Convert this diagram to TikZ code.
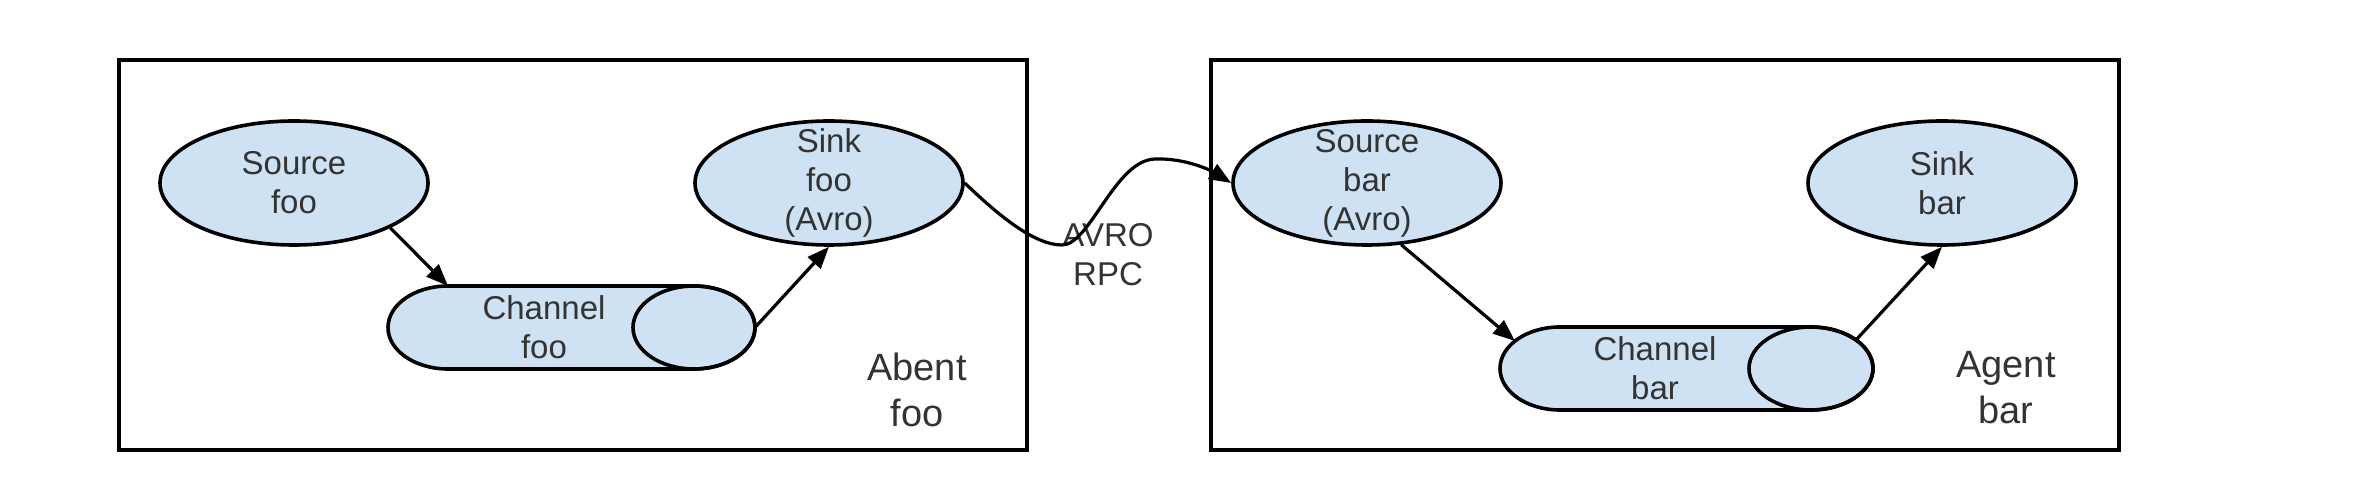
\documentclass[tikz,border=0pt]{standalone}
\usepackage{fontspec}
\setmainfont{Liberation Sans}
\usetikzlibrary{arrows.meta,shapes.geometric}
\definecolor{fillblue}{HTML}{CFE2F3}
\definecolor{txt}{HTML}{333333}
\begin{document}
\begin{tikzpicture}[x=0.5pt,y=0.5pt,
  agentbox/.style={draw=black,line width=2.2pt,inner sep=0pt,minimum width=454pt,minimum height=195pt},
  comp/.style={ellipse,draw=black,line width=1.8pt,fill=fillblue,minimum width=134pt,minimum height=62pt,inner sep=0pt},
  lbl/.style={align=center,text=txt,inner sep=0pt,font=\fontsize{16.5}{19.5}\selectfont},
  biglbl/.style={align=center,text=txt,inner sep=0pt,font=\fontsize{19}{23}\selectfont},
  flow/.style={line width=1.6pt,-{Triangle[length=11pt,width=8.5pt]}},
  chan/.style={draw=black,line width=1.8pt,fill=fillblue}]
\useasboundingbox (0,0) rectangle (2368,492);
% agent boxes
\node[agentbox] (agentfoo) at (573,237) {};
\node[agentbox] (agentbar) at (1665,237) {};
% components
\node[comp,label={[lbl]center:Source\\foo}] (srcfoo) at (294,309) {};
\node[comp,label={[lbl]center:Sink\\foo\\(Avro)}] (sinkfoo) at (829,309) {};
\node[comp,label={[lbl]center:Source\\bar\\(Avro)}] (srcbar) at (1367,309) {};
\node[comp,label={[lbl]center:Sink\\bar}] (sinkbar) at (1942,309) {};
% channel foo
\draw[chan] (448,206) -- (694,206) arc[start angle=90,end angle=-90,x radius=30.5pt,y radius=20.75pt]
  -- (448,123) arc[start angle=270,end angle=90,x radius=30pt,y radius=20.75pt] -- cycle;
\draw[line width=1.8pt] (694,164.5) ellipse[x radius=30.5pt,y radius=20.75pt];
\node[lbl] (chfoo) at (544,165) {Channel\\foo};
\coordinate (chfooin) at (448,206);
\coordinate (chfooout) at (755,164.5);
% channel bar
\draw[chan] (1560,165) -- (1811,165) arc[start angle=90,end angle=-90,x radius=31pt,y radius=20.75pt]
  -- (1560,82) arc[start angle=270,end angle=90,x radius=30pt,y radius=20.75pt] -- cycle;
\draw[line width=1.8pt] (1811,123.5) ellipse[x radius=31pt,y radius=20.75pt];
\node[lbl] (chbar) at (1655,124) {Channel\\bar};
\coordinate (chbarin) at (1515,151);
\coordinate (chbarout) at (1856,152);
% labels
\node[biglbl] (labfoo) at (917,102) {Abent\\foo};
\node[biglbl] (labbar) at (2006,104) {Agent\\bar};
\node[lbl] (rpc) at (1108,237) {AVRO\\RPC};
% connectors
\draw[flow] (srcfoo.-25) -- (chfooin);
\draw[flow] (chfooout) -- (sinkfoo.south);
\draw[flow] (srcbar.-61) -- (chbarin);
\draw[flow] (chbarout) -- (sinkbar.south);
\draw[flow] (sinkfoo.east) .. controls (1000,275) and (1035,247) .. (1062,247)
  .. controls (1090,247) and (1115,332) .. (1155,333)
  .. controls (1185,334) and (1210,322) .. (srcbar.west);
\end{tikzpicture}
\end{document}
